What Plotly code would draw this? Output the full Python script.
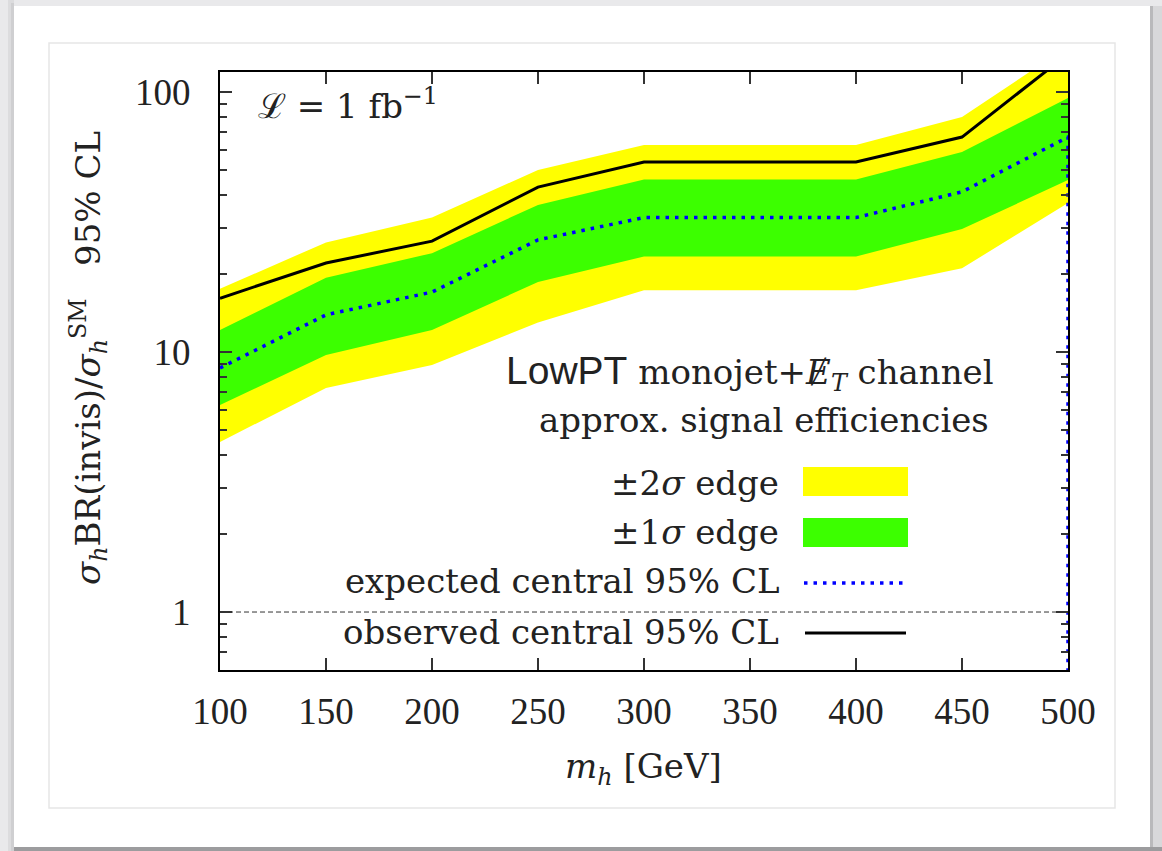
import plotly.graph_objects as go

# Higgs mass points [GeV]
mass = [100, 150, 200, 250, 300, 350, 400, 450, 500]

# 95% CL limits on sigma*BR(invis)/sigma_SM
observed = [16.1, 22.0, 26.7, 43.1, 53.8, 53.8, 53.8, 67.1, 140.0]
expected = [8.68, 13.9, 17.0, 27.0, 32.9, 32.9, 32.9, 41.3, 67.1]
band1_up = [12.15, 19.3, 24.0, 36.8, 46.1, 46.1, 46.1, 58.8, 94.8]
band1_dn = [6.25, 9.74, 12.15, 18.6, 23.3, 23.3, 23.3, 29.7, 45.9]
band2_up = [17.5, 26.4, 32.9, 50.1, 62.5, 62.5, 62.5, 80.1, 150.0]
band2_dn = [4.51, 7.27, 8.91, 13.0, 17.3, 17.3, 17.3, 21.0, 37.4]
# the expected curve closes by dropping to this floor at the last mass point
expected_floor = 0.1

sm_reference = 1.0

x_ticks = [100, 150, 200, 250, 300, 350, 400, 450, 500]
y_ticks = [1, 10, 100]
y_ticktext = ["1", "10", "100"]
y_minor = [0.6, 0.7, 0.8, 0.9, 2, 3, 4, 5, 6, 7, 8, 9,
           20, 30, 40, 50, 60, 70, 80, 90]

W, H = 1162, 851
L, R, T, B = 220, 1068, 72, 670


def px(x):
    return (x - L) / (R - L)


def py(y):
    return (B - y) / (B - T)


SERIF = "Liberation Serif"
TEXT_SERIF = "DejaVu Serif"
TXT = "#222222"

fig = go.Figure()

fig.add_trace(go.Scatter(
    x=mass + mass[::-1], y=band2_up + band2_dn[::-1],
    fill="toself", fillcolor="#ffff00", line=dict(width=0),
    mode="lines", hoverinfo="skip", showlegend=False))
fig.add_trace(go.Scatter(
    x=mass + mass[::-1], y=band1_up + band1_dn[::-1],
    fill="toself", fillcolor="#3cff00", line=dict(width=0),
    mode="lines", hoverinfo="skip", showlegend=False))
fig.add_trace(go.Scatter(
    x=mass + [mass[-1]], y=expected + [expected_floor],
    mode="lines", line=dict(color="#0000ff", width=3.5, dash="3.5px,6px"),
    showlegend=False))
fig.add_trace(go.Scatter(
    x=mass, y=observed, mode="lines",
    line=dict(color="#000000", width=3), showlegend=False))

shapes = []


def rect(x0, y0, x1, y1, fill=None, line=None, lw=0, layer="below"):
    shapes.append(dict(
        type="rect", xref="paper", yref="paper",
        x0=px(x0), x1=px(x1), y0=py(y1), y1=py(y0),
        fillcolor=fill if fill else "rgba(0,0,0,0)",
        line=dict(color=line if line else "rgba(0,0,0,0)", width=lw),
        layer=layer))


# page card with soft shadow
rect(8, 0, 14, 851, fill="#dcdcde")
rect(11, 3, 14, 851, fill="#cfcfd1")
rect(1150, 6, 1162, 851, fill="#d8d8da")
rect(1150, 6, 1153, 851, fill="#b9b9bb")
rect(14, 847, 1162, 851, fill="#9c9c9e")
rect(14, 6, 1150, 847, fill="#ffffff")
rect(49, 43, 1115, 808, line="#e6e6e6", lw=1.5)

# reference line at the SM rate
shapes.append(dict(type="line", xref="paper", yref="y",
                   x0=0, x1=1, y0=sm_reference, y1=sm_reference,
                   line=dict(color="#333333", width=1, dash="5px,3px"),
                   layer="above"))

# key swatches
rect(803, 467, 908, 496, fill="#ffff00", layer="above")
rect(803, 518, 908, 547, fill="#3cff00", layer="above")
shapes.append(dict(type="line", xref="paper", yref="paper",
                   x0=px(804), x1=px(903), y0=py(583), y1=py(583),
                   line=dict(color="#0000ff", width=3.5, dash="3.5px,6px"),
                   layer="above"))
shapes.append(dict(type="line", xref="paper", yref="paper",
                   x0=px(805), x1=px(906), y0=py(633), y1=py(633),
                   line=dict(color="#000000", width=3), layer="above"))

annotations = []


def text(x, y, s, size=34, xanchor="right", angle=0, family=TEXT_SERIF):
    annotations.append(dict(
        x=px(x), y=py(y), xref="paper", yref="paper", text=s,
        showarrow=False, xanchor=xanchor, yanchor="middle",
        textangle=angle, font=dict(family=family, size=size, color=TXT)))


text(781, 483, "±2<i>σ</i> edge")
text(781, 532, "±1<i>σ</i> edge")
text(781, 581, "expected central 95% CL")
text(781, 632, "observed central 95% CL")
text(996, 373, '<span style="font-family:Liberation Sans;font-size:39px">'
     "LowPT</span> monojet+<i>Ɇ</i><sub><i>T</i></sub> channel")
text(991, 420, "approx. signal efficiencies")
text(256, 104, "ℒ = 1 fb<sup>−1</sup>", xanchor="left")
text(643, 768, "<i>m</i><sub><i>h</i></sub> [GeV]", xanchor="center")
text(88, 358, "<i>σ</i><sub><i>h</i></sub>BR(invis)/<i>σ</i><sub><i>h</i></sub>"
     "<sup>SM</sup>   95% CL", xanchor="center", angle=-90)

axis_common = dict(
    showline=True, linecolor="#000000", linewidth=2, mirror="allticks",
    ticks="inside", ticklen=12, tickwidth=1.5, tickcolor="#333333",
    showgrid=False, zeroline=False,
    tickfont=dict(family=SERIF, size=37, color=TXT))

fig.update_layout(
    width=W, height=H,
    margin=dict(l=L, r=W - R, t=T, b=H - B),
    paper_bgcolor="#e9e9eb", plot_bgcolor="#ffffff",
    xaxis=dict(range=[100, 500], tickvals=x_ticks, ticklabelstandoff=8,
               **axis_common),
    yaxis=dict(type="log", range=[-0.223, 2.077], tickvals=y_ticks,
               ticktext=y_ticktext, ticklabelstandoff=20,
               minor=dict(tickvals=y_minor, ticks="inside", ticklen=7,
                          tickwidth=1.5, tickcolor="#333333", showgrid=False),
               **axis_common),
    shapes=shapes, annotations=annotations,
    showlegend=False,
)

fig.write_html("out.html")
